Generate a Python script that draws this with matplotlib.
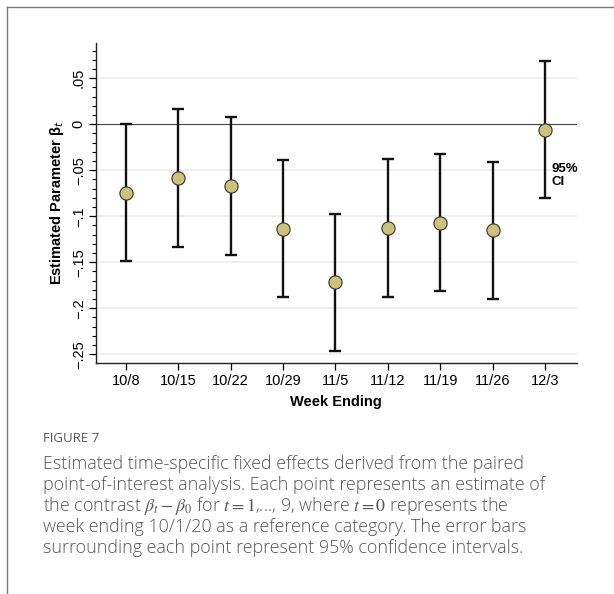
import numpy as np
import matplotlib
matplotlib.use("Agg")
import matplotlib.pyplot as plt
from matplotlib.ticker import FixedLocator, MultipleLocator
from matplotlib.lines import Line2D

# Datos
semanas = ["10/8", "10/15", "10/22", "10/29", "11/5", "11/12", "11/19", "11/26", "12/3"]
estimado = [-0.0747, -0.0587, -0.0674, -0.1138, -0.1717, -0.1127, -0.1070, -0.1152, -0.0062]
ic_inf = [-0.1490, -0.1330, -0.1420, -0.1880, -0.2465, -0.1877, -0.1810, -0.1900, -0.0804]
ic_sup = [0.0000, 0.0163, 0.0076, -0.0390, -0.0971, -0.0380, -0.0320, -0.0410, 0.0685]
yticks = [0.05, 0.0, -0.05, -0.1, -0.15, -0.2, -0.25]
ytick_labels = [".05", "0", "\u2212.05", "\u2212.1", "\u2212.15", "\u2212.2", "\u2212.25"]

caption_title = "FIGURE 7"
caption_lines = [
    "Estimated time-specific fixed effects derived from the paired",
    "point-of-interest analysis. Each point represents an estimate of",
    r"the contrast $\beta_t - \beta_0$ for $t = 1$,..., 9, where $t = 0$ represents the",
    "week ending 10/1/20 as a reference category. The error bars",
    "surrounding each point represent 95% confidence intervals.",
]

W, H = 614, 594
fig = plt.figure(figsize=(W / 100, H / 100), dpi=100)
plt.rcParams["font.family"] = ["Liberation Sans", "DejaVu Sans"]

# ── marco de la figura ──
fig.add_artist(Line2D([7 / W, 1], [1 - 7 / H, 1 - 7 / H], color="#777777", lw=1.0))
fig.add_artist(Line2D([7 / W, 7 / W], [0, 1 - 7 / H], color="#777777", lw=1.0))

ax = fig.add_axes([95.5 / W, 1 - 362.7 / H, (577 - 95.5) / W, (362.7 - 42.7) / H])
x = np.arange(1, len(semanas) + 1)
est = np.array(estimado)
yerr = [est - np.array(ic_inf), np.array(ic_sup) - est]

for yv in yticks:
    if yv != 0:
        ax.axhline(yv, color="#ececec", lw=1.2, zorder=0)
ax.axhline(0, color="#444444", lw=0.8, zorder=1)

ax.errorbar(x, est, yerr=yerr, fmt="none", ecolor="#111111", elinewidth=1.7,
            capsize=4.3, capthick=1.7, zorder=2)
ax.plot(x, est, "o", ms=9.5, mfc="#cdc27c", mec="#333333", mew=0.8, zorder=3)

ax.text(x[-1] + 0.12, -0.056, "95%\nCI", fontsize=9.5, fontweight="bold",
        ha="left", va="center", linespacing=1.1)

ax.set_xlim(0.42, 9.61)
ax.set_ylim(-0.2592, 0.0887)
ax.set_xticks(x)
ax.set_xticklabels(semanas, fontsize=10.5)
ax.yaxis.set_major_locator(FixedLocator(yticks))
ax.set_yticklabels(ytick_labels, fontsize=10.5, rotation=90, va="center")
ax.yaxis.set_minor_locator(MultipleLocator(0.01))
ax.tick_params(axis="y", which="major", length=5, width=0.9, pad=2)
ax.tick_params(axis="y", which="minor", length=3, width=0.8)
ax.tick_params(axis="x", length=5, width=0.9, pad=3)

for s in ["top", "right"]:
    ax.spines[s].set_visible(False)
for s in ["left", "bottom"]:
    ax.spines[s].set_linewidth(1.0)
    ax.spines[s].set_color("#222222")

ax.set_xlabel("Week Ending", fontsize=10.5, fontweight="bold", labelpad=5)
ax.set_ylabel(r"Estimated Parameter β$_t$", fontsize=10.5, fontweight="bold", labelpad=4)

# ── leyenda de la figura ──
fig.text(43 / W, 1 - 438 / H, caption_title, fontsize=9.5, color="#555555",
         family=["Open Sans", "DejaVu Sans"], va="center")
for i, linea in enumerate(caption_lines):
    fig.text(43 / W, 1 - (464 + 21 * i) / H, linea, fontsize=12.9, color="#555555",
             family=["Open Sans", "DejaVu Sans"], fontweight="light",
             va="center", math_fontfamily="stix")

fig.savefig("out.png", dpi=100)
